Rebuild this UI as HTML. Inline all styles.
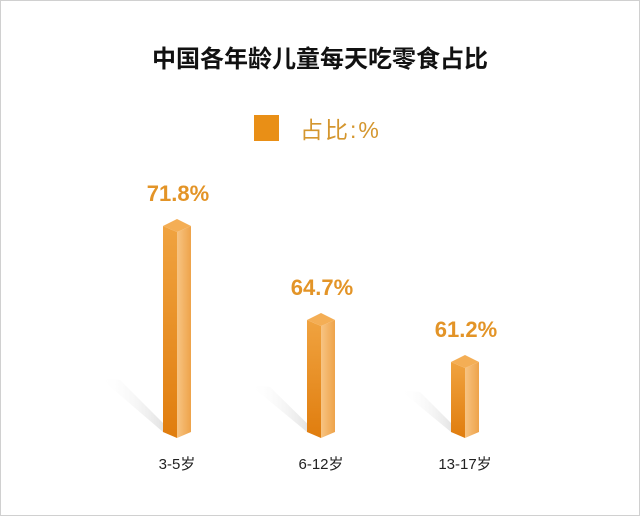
<!DOCTYPE html>
<html><head><meta charset="utf-8"><style>
body{margin:0;background:#fff}
svg{display:block}
text{font-family:"Liberation Sans","Noto Sans CJK SC",sans-serif}
</style></head><body>
<svg width="640" height="516" viewBox="0 0 640 516">
<defs>
<linearGradient id="lf" x1="0" y1="0" x2="0" y2="1"><stop offset="0" stop-color="#f0a340"/><stop offset="1" stop-color="#e07d0e"/></linearGradient>
<linearGradient id="rf" x1="0" y1="0" x2="1" y2="0"><stop offset="0" stop-color="#f7c483"/><stop offset="1" stop-color="#eea34a"/></linearGradient>
<linearGradient id="sh" x1="1" y1="0" x2="0" y2="0"><stop offset="0" stop-color="#ccc" stop-opacity="0.8"/><stop offset="1" stop-color="#fff" stop-opacity="0"/></linearGradient>
</defs>
<rect x="0.5" y="0.5" width="639" height="515" fill="#fff" stroke="#d0d0d0"/>
<text x="320" y="67" text-anchor="middle" font-size="24" font-weight="bold" fill="#111">中国各年龄儿童每天吃零食占比</text>
<rect x="254" y="115" width="25" height="26" fill="#e98f16"/>
<text x="300" y="138" font-size="23" fill="#d4962e" letter-spacing="2">占比:%</text>
<g>
<polygon points="163,432 100,378 120,380 177,437" fill="url(#sh)"/>
<polygon points="307,432 250,385 270,387 321,437" fill="url(#sh)"/>
<polygon points="451,432 400,390 420,392 465,437" fill="url(#sh)"/>
</g>
<g>
<polygon points="163,226 177,232 177,438 163,432" fill="url(#lf)"/>
<polygon points="177,232 191,226 191,432 177,438" fill="url(#rf)"/>
<polygon points="163,226 177,219 191,226 177,232" fill="#f4ae55"/>
<polygon points="307,320 321,326 321,438 307,432" fill="url(#lf)"/>
<polygon points="321,326 335,320 335,432 321,438" fill="url(#rf)"/>
<polygon points="307,320 321,313 335,320 321,326" fill="#f4ae55"/>
<polygon points="451,362 465,368 465,438 451,432" fill="url(#lf)"/>
<polygon points="465,368 479,362 479,432 465,438" fill="url(#rf)"/>
<polygon points="451,362 465,355 479,362 465,368" fill="#f4ae55"/>
</g>
<g font-size="22" font-weight="bold" fill="#e39427" text-anchor="middle">
<text x="178" y="201">71.8%</text>
<text x="322" y="295">64.7%</text>
<text x="466" y="337">61.2%</text>
</g>
<g font-size="15" fill="#222" text-anchor="middle">
<text x="177" y="469">3-5岁</text>
<text x="321" y="469">6-12岁</text>
<text x="465" y="469">13-17岁</text>
</g>
</svg>
</body></html>
